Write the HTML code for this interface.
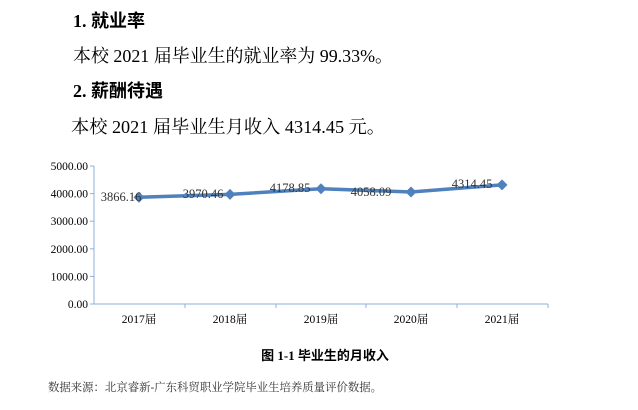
<!DOCTYPE html>
<html><head><meta charset="utf-8"><style>
html,body{margin:0;padding:0;background:#fff;width:638px;height:410px;overflow:hidden}
svg{display:block}
.s{font-family:"Liberation Serif","Noto Serif CJK SC",serif}
.b{font-family:"Liberation Serif","Noto Sans CJK SC",sans-serif;font-weight:bold}
</style></head><body>
<svg width="638" height="410" viewBox="0 0 638 410">
<text x="73" y="27" class="b" font-size="18" fill="#000">1. 就业率</text>
<text x="73" y="62" class="s" font-size="18" fill="#000" textLength="320" lengthAdjust="spacingAndGlyphs">本校 2021 届毕业生的就业率为 99.33%。</text>
<text x="73" y="97" class="b" font-size="18" fill="#000">2. 薪酬待遇</text>
<text x="71" y="133" class="s" font-size="18" fill="#000" textLength="314" lengthAdjust="spacingAndGlyphs">本校 2021 届毕业生月收入 4314.45 元。</text>

<g stroke="#8fb0d8" stroke-width="1" fill="none">
<line x1="94" y1="166" x2="94" y2="304"/>
<line x1="94" y1="304" x2="548" y2="304"/>
<line x1="90" y1="166" x2="94" y2="166"/>
<line x1="90" y1="193.6" x2="94" y2="193.6"/>
<line x1="90" y1="221.2" x2="94" y2="221.2"/>
<line x1="90" y1="248.8" x2="94" y2="248.8"/>
<line x1="90" y1="276.4" x2="94" y2="276.4"/>
<line x1="90" y1="304" x2="94" y2="304"/>
<line x1="185" y1="304" x2="185" y2="308"/>
<line x1="276" y1="304" x2="276" y2="308"/>
<line x1="366" y1="304" x2="366" y2="308"/>
<line x1="457" y1="304" x2="457" y2="308"/>
<line x1="548" y1="304" x2="548" y2="308"/>
</g>
<g class="s" font-size="11.5" fill="#000" text-anchor="end">
<text x="88" y="170">5000.00</text>
<text x="88" y="197.6">4000.00</text>
<text x="88" y="225.2">3000.00</text>
<text x="88" y="252.8">2000.00</text>
<text x="88" y="280.4">1000.00</text>
<text x="88" y="308">0.00</text>
</g>
<g class="s" font-size="11.5" fill="#000" text-anchor="middle">
<text x="139" y="323">2017届</text>
<text x="230" y="323">2018届</text>
<text x="321" y="323">2019届</text>
<text x="411" y="323">2020届</text>
<text x="502" y="323">2021届</text>
</g>
<polyline points="139,197.3 230,194.4 321,188.7 411,192 502,184.9" fill="none" stroke="#4f81bd" stroke-width="3.5" stroke-linejoin="round"/>
<g fill="#4f81bd">
<polygon points="139,191.8 144.5,197.3 139,202.8 133.5,197.3"/>
<polygon points="230,188.9 235.5,194.4 230,199.9 224.5,194.4"/>
<polygon points="321,183.2 326.5,188.7 321,194.2 315.5,188.7"/>
<polygon points="411,186.5 416.5,192 411,197.5 405.5,192"/>
<polygon points="502,179.4 507.5,184.9 502,190.4 496.5,184.9"/>
</g>
<g class="s" font-size="12.5" fill="#333" text-anchor="middle">
<text x="121" y="201">3866.16</text>
<text x="203" y="198">3970.46</text>
<text x="290" y="192">4178.85</text>
<text x="371" y="196">4058.09</text>
<text x="472" y="188">4314.45</text>
</g>
<text x="325" y="360" class="b" font-size="13" fill="#000" text-anchor="middle">图 1-1 毕业生的月收入</text>
<text x="48" y="391" class="s" font-size="11.5" fill="#333" textLength="334" lengthAdjust="spacingAndGlyphs">数据来源：北京睿新-广东科贸职业学院毕业生培养质量评价数据。</text>
</svg>
</body></html>
